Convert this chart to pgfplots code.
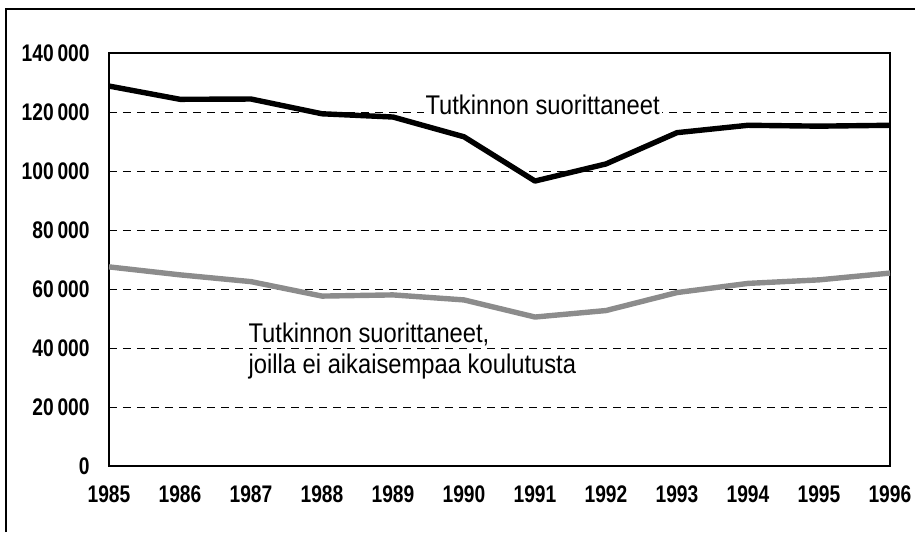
\documentclass[border=0pt]{standalone}
\usepackage{pgfplots}
\pgfplotsset{compat=1.18}
\usepackage{fontspec}
\setmainfont{Liberation Sans}[FakeStretch=0.88]
\newfontfamily\tickfont{Liberation Sans}[FakeStretch=0.8]
\definecolor{halftone}{RGB}{140,140,140}
\newcommand{\ts}{\hspace{0.16em}}
\begin{document}
\begin{tikzpicture}
\path[use as bounding box] (-54.5pt,-33pt) rectangle (403pt,233pt);
\draw[line width=0.8pt] (-51.5pt,-33pt) -- (-51.5pt,228.5pt) -- (403pt,228.5pt);
\begin{axis}[
  at={(0,0)}, anchor=south west,
  scale only axis, width=390.5pt, height=206.5pt,
  xmin=1985, xmax=1996, ymin=0, ymax=140000,
  xtick={1985,...,1996},
  xticklabels={1985,1986,1987,1988,1989,1990,1991,1992,1993,1994,1995,1996},
  ytick={0,20000,40000,60000,80000,100000,120000,140000},
  yticklabels={0,20\ts000,40\ts000,60\ts000,80\ts000,100\ts000,120\ts000,140\ts000},
  scaled y ticks=false,
  major tick length=0pt,
  tick label style={font=\tickfont\bfseries\fontsize{12}{13}\selectfont, inner sep=0pt},
  yticklabel style={xshift=-9.5pt},
  xticklabel style={yshift=-9.5pt},
  ymajorgrids,
  major grid style={black, line width=0.5pt, dash pattern=on 4pt off 3pt},
  axis line style={line width=0.8pt},
]
\addplot[black, line width=2.7pt, line join=round] coordinates {
 (1985,128800) (1986,124300) (1987,124400) (1988,119400) (1989,118300)
 (1990,111600) (1991,96600) (1992,102400) (1993,113000) (1994,115500)
 (1995,115200) (1996,115500)};
\addplot[halftone, line width=2.7pt, line join=round] coordinates {
 (1985,67500) (1986,64800) (1987,62500) (1988,57600) (1989,58000)
 (1990,56300) (1991,50500) (1992,52700) (1993,58800) (1994,61900)
 (1995,63100) (1996,65400)};
\node[anchor=base west, fill=white, inner ysep=0pt, inner xsep=1pt, outer sep=0pt,
  font=\fontsize{13.5}{15}\selectfont] at (axis cs:1989.43,119300) {Tutkinnon suorittaneet};
\node[anchor=base west, inner sep=0pt, font=\fontsize{13.5}{15}\selectfont]
  at (axis cs:1986.96,41700) {Tutkinnon suorittaneet,};
\node[anchor=base west, inner sep=0pt, font=\fontsize{13.5}{15}\selectfont]
  at (axis cs:1986.96,31500) {joilla ei aikaisempaa koulutusta};
\end{axis}
\end{tikzpicture}
\end{document}
